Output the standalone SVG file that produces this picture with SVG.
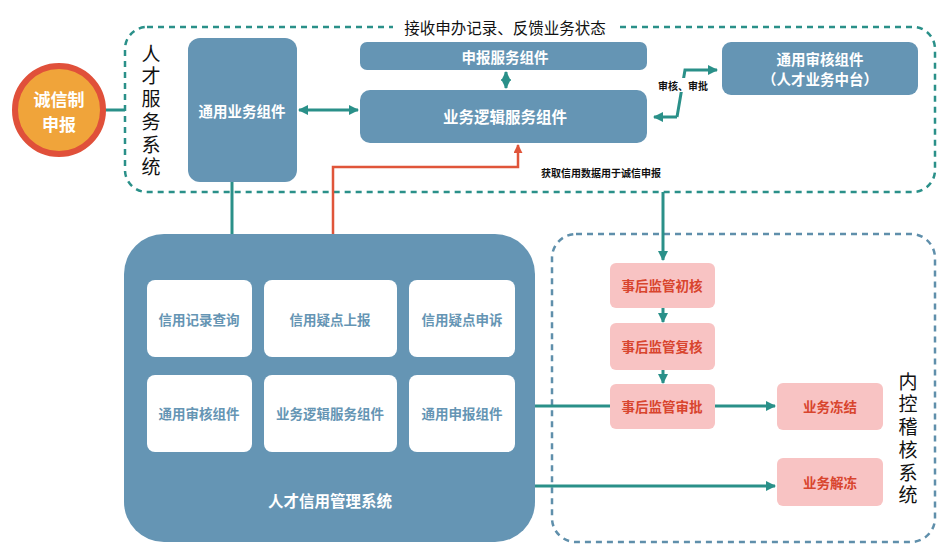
<svg xmlns="http://www.w3.org/2000/svg" width="948" height="556" viewBox="0 0 948 556">
<defs>
<style>
text{font-family:"Noto Sans CJK SC","Noto Sans",sans-serif;}
.blue{fill:#6595b4;}
.wt{fill:#fff;font-weight:bold;text-anchor:middle;dominant-baseline:central;}
.inner{fill:#fff;}
.it{fill:#6595b4;font-weight:bold;font-size:13.5px;text-anchor:middle;dominant-baseline:central;}
.pink{fill:#f8c3c3;}
.pt{fill:#d8452e;font-weight:bold;font-size:13.5px;text-anchor:middle;dominant-baseline:central;}
.tl{fill:none;stroke:#2a9089;stroke-width:3;}
.vt{font-size:19px;fill:#111;writing-mode:vertical-rl;letter-spacing:3.7px;}
.sm{font-size:10px;font-weight:bold;fill:#111;text-anchor:middle;dominant-baseline:central;}
</style>
<marker id="ah" viewBox="0 0 10 10" refX="9" refY="5" markerWidth="3.4" markerHeight="3.4" orient="auto-start-reverse" markerUnits="strokeWidth">
<path d="M0,0 L10,5 L0,10 z" fill="#2a9089"/>
</marker>
<marker id="ahr" viewBox="0 0 10 10" refX="9" refY="5" markerWidth="3.6" markerHeight="3.6" orient="auto" markerUnits="strokeWidth">
<path d="M0,0 L10,5 L0,10 z" fill="#e0553a"/>
</marker>
</defs>

<g id="frames">
<rect x="125" y="27" width="810" height="165" rx="22" fill="none" stroke="#2a9089" stroke-width="2.5" stroke-dasharray="6 5"/>
<rect x="552" y="234" width="383" height="308" rx="24" fill="none" stroke="#5f8fab" stroke-width="2.5" stroke-dasharray="6 5"/>
<rect x="393" y="18" width="224" height="18" fill="#fff"/>
<text x="505" y="27" style="font-size:15.5px;fill:#111;text-anchor:middle;dominant-baseline:central;">接收申办记录、反馈业务状态</text>
</g>

<g id="connectors">
<line x1="105" y1="110" x2="125" y2="110" class="tl"/>
<line x1="299" y1="110" x2="358" y2="110" class="tl" marker-start="url(#ah)" marker-end="url(#ah)"/>
<line x1="506" y1="72" x2="506" y2="88" class="tl" stroke-width="2" marker-start="url(#ah)" marker-end="url(#ah)"/>
<polyline points="677,117 685,70 717,70" class="tl" stroke-width="2.5" marker-end="url(#ah)"/>
<polyline points="677,117 654,117" class="tl" stroke-width="2.5" marker-end="url(#ah)"/>
<rect x="658" y="78" width="50" height="14" fill="#fff"/>
<text x="683" y="85" class="sm">审核、审批</text>
<line x1="232" y1="182" x2="232" y2="235" class="tl"/>
<polyline points="333,235 333,167 518,167 518,145" fill="none" stroke="#e0553a" stroke-width="2.5" marker-end="url(#ahr)"/>
<text x="601" y="172" class="sm">获取信用数据用于诚信申报</text>
<line x1="663" y1="192" x2="663" y2="260" class="tl" marker-end="url(#ah)"/>
<line x1="663" y1="308" x2="663" y2="322" class="tl" marker-end="url(#ah)"/>
<line x1="663" y1="370" x2="663" y2="383" class="tl" marker-end="url(#ah)"/>
<line x1="535" y1="406" x2="610" y2="406" class="tl"/>
<line x1="715" y1="406" x2="775" y2="406" class="tl" marker-end="url(#ah)"/>
<line x1="535" y1="486" x2="775" y2="486" class="tl" marker-end="url(#ah)"/>
</g>

<g id="n-chengxin">
<circle cx="59" cy="110" r="44" fill="#f0a43a" stroke="#e0503a" stroke-width="6"/>
<text class="wt" style="font-size:17px;"><tspan x="59" y="98">诚信制</tspan><tspan x="59" dy="25">申报</tspan></text>
</g>

<g id="n-rencaifuwu-label">
<text x="151" y="44" class="vt">人才服务系统</text>
</g>

<g id="n-tongyongyewu">
<rect x="188" y="38" width="109" height="144" rx="12" class="blue"/>
<text x="242" y="110" class="wt" style="font-size:14.5px;">通用业务组件</text>
</g>

<g id="n-shenbaofuwu">
<rect x="360" y="42" width="287" height="28" rx="7" class="blue"/>
<text x="505" y="56" class="wt" style="font-size:14.5px;">申报服务组件</text>
</g>

<g id="n-yewuluoji">
<rect x="360" y="90" width="287" height="53" rx="10" class="blue"/>
<text x="505" y="116" class="wt" style="font-size:15.5px;">业务逻辑服务组件</text>
</g>

<g id="n-tongyongshenhe">
<rect x="722" y="42" width="196" height="53" rx="9" class="blue"/>
<text class="wt" style="font-size:14.5px;"><tspan x="820" y="58">通用审核组件</tspan><tspan x="820" dy="20">（人才业务中台）</tspan></text>
</g>

<g id="n-rencaixinyong">
<rect x="124" y="234" width="411" height="308" rx="40" class="blue"/>
<rect x="147" y="280" width="105" height="77" rx="8" class="inner"/>
<text x="199" y="319" class="it">信用记录查询</text>
<rect x="264" y="280" width="133" height="77" rx="8" class="inner"/>
<text x="330" y="319" class="it">信用疑点上报</text>
<rect x="409" y="280" width="106" height="77" rx="8" class="inner"/>
<text x="462" y="319" class="it">信用疑点申诉</text>
<rect x="147" y="375" width="105" height="77" rx="8" class="inner"/>
<text x="199" y="413" class="it">通用审核组件</text>
<rect x="264" y="375" width="133" height="77" rx="8" class="inner"/>
<text x="330" y="413" class="it">业务逻辑服务组件</text>
<rect x="409" y="375" width="106" height="77" rx="8" class="inner"/>
<text x="462" y="413" class="it">通用申报组件</text>
<text x="330" y="500" class="wt" style="font-size:15.5px;">人才信用管理系统</text>
</g>

<g id="n-chuhe">
<rect x="610" y="263" width="105" height="45" rx="6" class="pink"/>
<text x="662" y="285" class="pt">事后监管初核</text>
</g>
<g id="n-fuhe">
<rect x="610" y="323" width="105" height="47" rx="6" class="pink"/>
<text x="662" y="346" class="pt">事后监管复核</text>
</g>
<g id="n-shenpi">
<rect x="610" y="384" width="105" height="45" rx="6" class="pink"/>
<text x="662" y="406" class="pt">事后监管审批</text>
</g>
<g id="n-dongjie">
<rect x="777" y="383" width="106" height="47" rx="6" class="pink"/>
<text x="830" y="406" class="pt">业务冻结</text>
</g>
<g id="n-jiedong">
<rect x="777" y="458" width="106" height="48" rx="6" class="pink"/>
<text x="830" y="482" class="pt">业务解冻</text>
</g>

<g id="n-neikong-label">
<text x="908" y="372" class="vt">内控稽核系统</text>
</g>
</svg>
